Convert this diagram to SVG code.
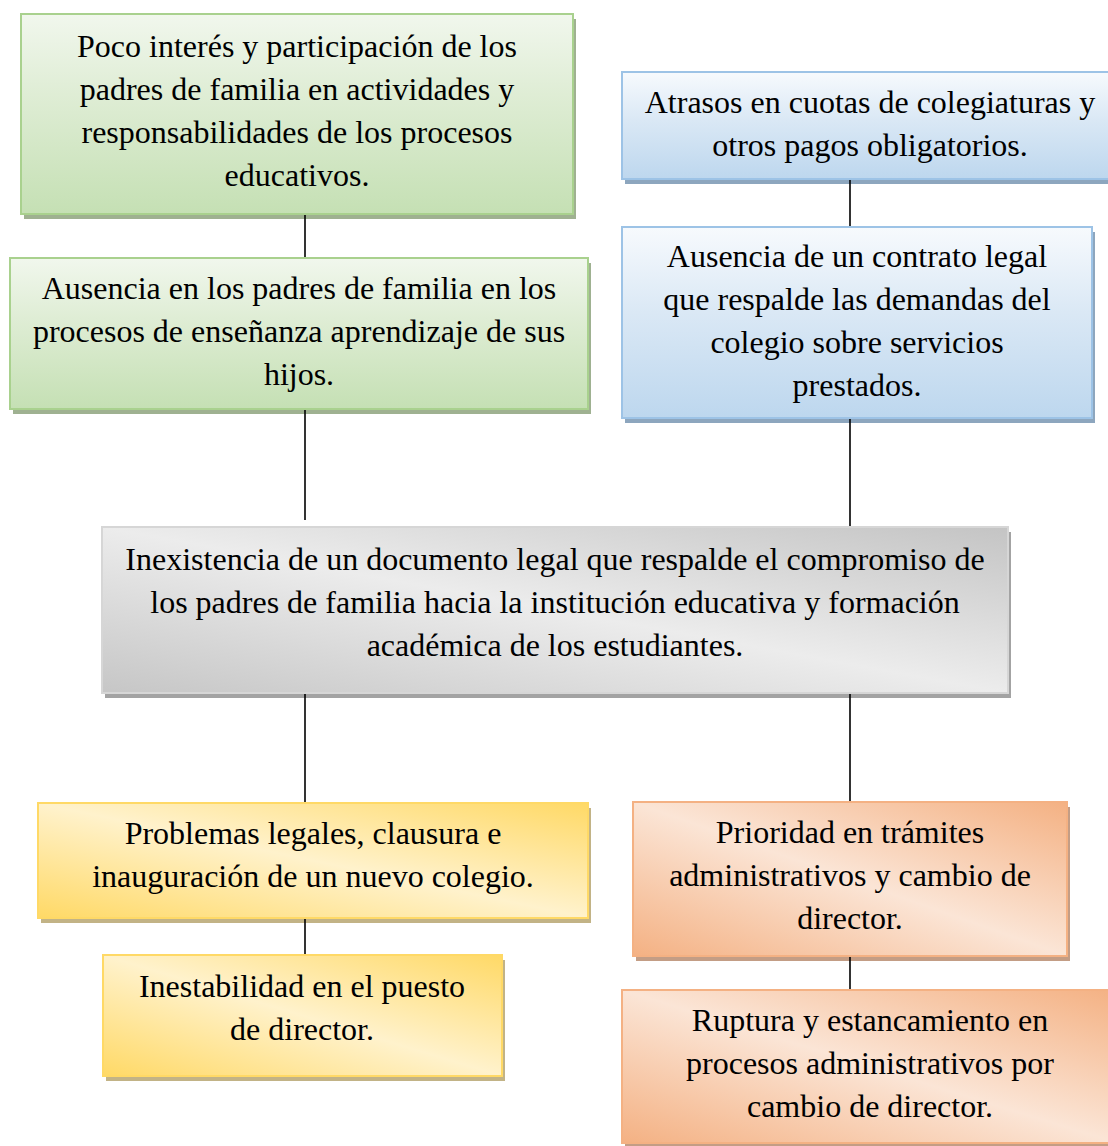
<svg xmlns="http://www.w3.org/2000/svg" width="1108" height="1146" viewBox="0 0 1108 1146">
  <defs>
    <linearGradient id="gGreen" x1="0" y1="0" x2="0" y2="1">
      <stop offset="0" stop-color="#f1f7ed"/>
      <stop offset="0.4" stop-color="#dfedd5"/>
      <stop offset="1" stop-color="#c5e0b4"/>
    </linearGradient>
    <linearGradient id="gBlue" x1="0" y1="0" x2="0" y2="1">
      <stop offset="0" stop-color="#f7fafd"/>
      <stop offset="0.45" stop-color="#dae8f5"/>
      <stop offset="1" stop-color="#bdd7ee"/>
    </linearGradient>
    <linearGradient id="gGray" x1="0" y1="1" x2="1" y2="0">
      <stop offset="0" stop-color="#c6c6c6"/>
      <stop offset="0.5" stop-color="#ececec"/>
      <stop offset="1" stop-color="#c4c4c4"/>
    </linearGradient>
    <linearGradient id="gYellow" x1="0" y1="1" x2="1" y2="0">
      <stop offset="0" stop-color="#ffd966"/>
      <stop offset="0.5" stop-color="#fff2cc"/>
      <stop offset="1" stop-color="#ffd966"/>
    </linearGradient>
    <linearGradient id="gOrange" x1="0" y1="1" x2="1" y2="0">
      <stop offset="0" stop-color="#f4b183"/>
      <stop offset="0.5" stop-color="#fbe5d6"/>
      <stop offset="1" stop-color="#f4b183"/>
    </linearGradient>
  </defs>
  <style>
    text { font-family: "Liberation Serif", "Times New Roman", serif; font-size: 32px; fill: #000; text-anchor: middle; }
    .green { fill: url(#gGreen); stroke: #a9d18e; stroke-width: 2; }
    .blue { fill: url(#gBlue); stroke: #9dc3e6; stroke-width: 2; }
    .gray { fill: url(#gGray); stroke: #d6d6d6; stroke-width: 2; }
    .yellow { fill: url(#gYellow); stroke: #ffd966; stroke-width: 2; }
    .orange { fill: url(#gOrange); stroke: #f4b183; stroke-width: 2; }
    .sh-green { fill: #9fb191; }
    .sh-blue { fill: #8da6be; }
    .sh-gray { fill: #a3a3a3; }
    .sh-yellow { fill: #c2b386; }
    .sh-orange { fill: #c39d85; }
    .conn { stroke: #000; stroke-width: 1.6; fill: none; }
  </style>
  <rect x="0" y="0" width="1108" height="1146" fill="#ffffff"/>

  <g id="node-green1">
    <rect class="sh-green" x="24" y="19" width="552" height="200"/>
    <rect class="green" x="21" y="14" width="552" height="200"/>
    <text x="297" y="57">Poco interés y participación de los</text>
    <text x="297" y="100">padres de familia en actividades y</text>
    <text x="297" y="143">responsabilidades de los procesos</text>
    <text x="297" y="186">educativos.</text>
  </g>

  <g id="node-green2">
    <rect class="sh-green" x="13" y="263" width="578" height="151"/>
    <rect class="green" x="10" y="258" width="578" height="151"/>
    <text x="299" y="299">Ausencia en los padres de familia en los</text>
    <text x="299" y="342">procesos de enseñanza aprendizaje de sus</text>
    <text x="299" y="385">hijos.</text>
  </g>

  <g id="node-blue1">
    <rect class="sh-blue" x="625" y="77" width="496" height="107"/>
    <rect class="blue" x="622" y="72" width="496" height="107"/>
    <text x="870" y="113">Atrasos en cuotas de colegiaturas y</text>
    <text x="870" y="156">otros pagos obligatorios.</text>
  </g>

  <g id="node-blue2">
    <rect class="sh-blue" x="625" y="232" width="470" height="191"/>
    <rect class="blue" x="622" y="227" width="470" height="191"/>
    <text x="857" y="267">Ausencia de un contrato legal</text>
    <text x="857" y="310">que respalde las demandas del</text>
    <text x="857" y="353">colegio sobre servicios</text>
    <text x="857" y="396">prestados.</text>
  </g>

  <g id="node-gray">
    <rect class="sh-gray" x="105" y="532" width="906" height="166"/>
    <rect class="gray" x="102" y="527" width="906" height="166"/>
    <text x="555" y="570">Inexistencia de un documento legal que respalde el compromiso de</text>
    <text x="555" y="613">los padres de familia hacia la institución educativa y formación</text>
    <text x="555" y="656">académica de los estudiantes.</text>
  </g>

  <g id="node-yellow1">
    <rect class="sh-yellow" x="41" y="808" width="550" height="115"/>
    <rect class="yellow" x="38" y="803" width="550" height="115"/>
    <text x="313" y="844">Problemas legales, clausura e</text>
    <text x="313" y="887">inauguración de un nuevo colegio.</text>
  </g>

  <g id="node-yellow2">
    <rect class="sh-yellow" x="106" y="960" width="399" height="121"/>
    <rect class="yellow" x="103" y="955" width="399" height="121"/>
    <text x="302" y="997">Inestabilidad en el puesto</text>
    <text x="302" y="1040">de director.</text>
  </g>

  <g id="node-orange1">
    <rect class="sh-orange" x="636" y="807" width="434" height="154"/>
    <rect class="orange" x="633" y="802" width="434" height="154"/>
    <text x="850" y="843">Prioridad en trámites</text>
    <text x="850" y="886">administrativos y cambio de</text>
    <text x="850" y="929">director.</text>
  </g>

  <g id="node-orange2">
    <rect class="sh-orange" x="625" y="995" width="496" height="153"/>
    <rect class="orange" x="622" y="990" width="496" height="153"/>
    <text x="870" y="1031">Ruptura y estancamiento en</text>
    <text x="870" y="1074">procesos administrativos por</text>
    <text x="870" y="1117">cambio de director.</text>
  </g>

  <g id="connectors">
    <line class="conn" x1="305" y1="215" x2="305" y2="257"/>
    <line class="conn" x1="305" y1="410" x2="305" y2="520"/>
    <line class="conn" x1="305" y1="694" x2="305" y2="802"/>
    <line class="conn" x1="305" y1="919" x2="305" y2="954"/>
    <line class="conn" x1="850" y1="180" x2="850" y2="226"/>
    <line class="conn" x1="850" y1="419" x2="850" y2="526"/>
    <line class="conn" x1="850" y1="694" x2="850" y2="801"/>
    <line class="conn" x1="850" y1="957" x2="850" y2="989"/>
  </g>
</svg>
